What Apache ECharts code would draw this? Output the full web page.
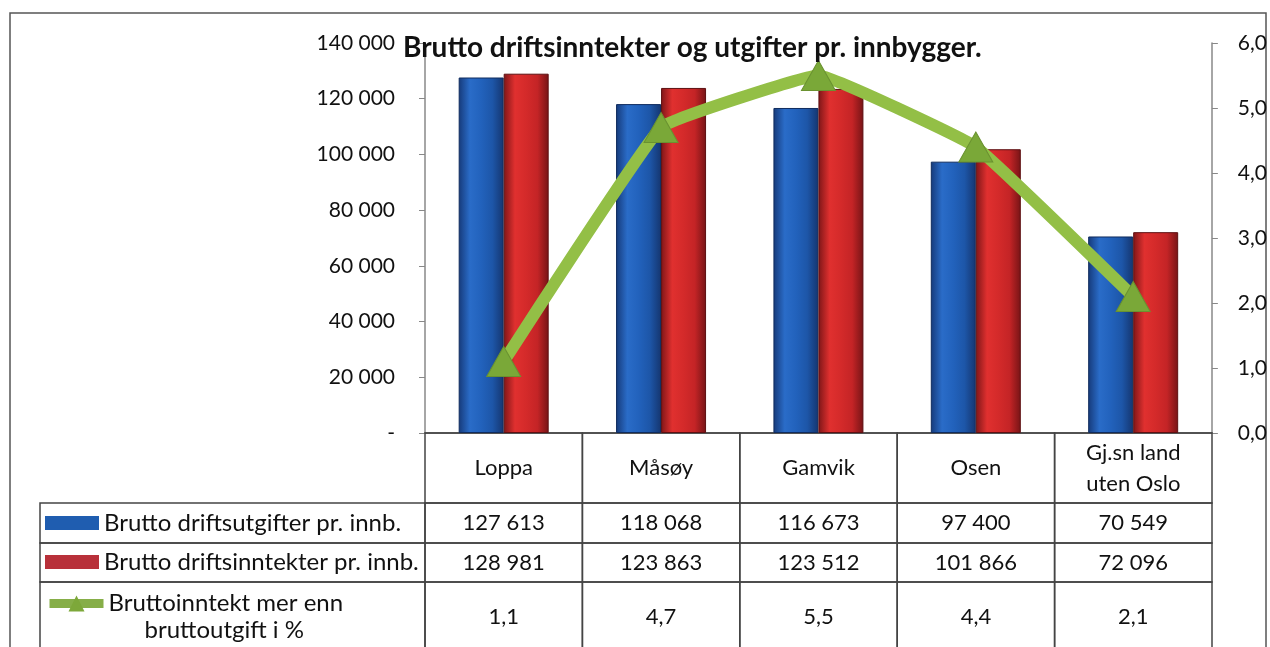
<!DOCTYPE html>
<html>
<head>
<meta charset="utf-8">
<script src="https://cdn.jsdelivr.net/npm/echarts@6/dist/echarts.min.js"></script>
<style>
  html, body { margin: 0; padding: 0; background: #fff; }
  #chart { width: 1270px; height: 647px; }
</style>
</head>
<body>
<div id="chart"></div>
<script>
const categories = ["Loppa", "Måsøy", "Gamvik", "Osen", "Gj.sn land\nuten Oslo"];
const utgifter = [127613, 118068, 116673, 97400, 70549];
const inntekter = [128981, 123863, 123512, 101866, 72096];
const prosent = [1.1, 4.7, 5.5, 4.4, 2.1];
const leftTicks = [0, 140000, 20000];
const rightTicks = [0, 6, 1];

const nameUt = "Brutto driftsutgifter pr. innb.";
const nameInn = "Brutto driftsinntekter pr. innb.";
const namePct = "Bruttoinntekt mer enn bruttoutgift i %";

const FONT = "Lato";
// table layout (pixels below the plot): header, row 1, row 2, row 3
const rowEdges = [0, 70, 110, 149, 219];
const legendCols = 385 / 157.4;

function fmt(n) {
    if (n === 0) return "-";
    return String(n).replace(/\B(?=(\d{3})+(?!\d))/g, " ");
}
function fmtPct(v) {
    return v.toFixed(1).replace(".", ",");
}

// cells of the data table: [colStart, colEnd, row, text]
const cells = [];
categories.forEach(function (c, i) {
    cells.push([i, i + 1, 0, c]);
    cells.push([i, i + 1, 1, fmt(utgifter[i])]);
    cells.push([i, i + 1, 2, fmt(inntekter[i])]);
    cells.push([i, i + 1, 3, fmtPct(prosent[i])]);
});
[1, 2, 3].forEach(function (r) {
    cells.push([-legendCols, 0, r, ""]);
});

function grad(stops) {
    return new echarts.graphic.LinearGradient(0, 0, 1, 0, stops.map(function (c, i) {
        return {offset: i / (stops.length - 1), color: c};
    }));
}

function legendRow(name, top, extra) {
    return Object.assign({
        orient: "vertical",
        left: 45,
        top: top,
        padding: 0,
        itemWidth: 54,
        itemHeight: 14,
        selectedMode: false,
        textStyle: {
            fontFamily: FONT, fontSize: 24, color: "#111", lineHeight: 26,
            rich: {
                a: {fontFamily: FONT, fontSize: 24, color: "#111", lineHeight: 27},
                b: {fontFamily: FONT, fontSize: 24, color: "#111", lineHeight: 27, padding: [0, 0, 0, 36]}
            }
        },
        formatter: function (n) {
            if (n === namePct) return "{a| }\n{a|Bruttoinntekt mer enn}\n{b|bruttoutgift i %}";
            return n;
        }
    }, extra);
}

const chart = echarts.init(document.getElementById("chart"));
chart.setOption({
    animation: false,
    textStyle: {fontFamily: FONT},
    title: {
        text: "Brutto driftsinntekter og utgifter pr. innbygger.",
        left: 398,
        top: 29,
        textStyle: {fontFamily: FONT, fontSize: 28, fontWeight: "bold", color: "#111"}
    },
    graphic: [{
        type: "rect",
        z: -1,
        shape: {x: 10, y: 13, width: 1256, height: 700},
        style: {fill: "none", stroke: "#555", lineWidth: 1.5}
    }],
    legend: [
        legendRow(nameUt, 510, {data: [{name: nameUt, icon: "rect", itemStyle: {color: "#1F5DB0", borderWidth: 0}}]}),
        legendRow(nameInn, 549, {data: [{name: nameInn, icon: "rect", itemStyle: {color: "#B8303A", borderWidth: 0}}]}),
        legendRow(namePct, 563, {
            itemHeight: 20,
            data: [{name: namePct, itemStyle: {color: "#7DA83A", borderWidth: 0}, lineStyle: {width: 9, color: "#86AE48"}}]
        })
    ],
    grid: [
        {left: 425, right: 58, top: 43, bottom: 214},
        {left: 40, right: 58, top: 433, bottom: 0}
    ],
    xAxis: [
        {
            type: "category",
            gridIndex: 0,
            data: categories,
            axisLine: {show: true, lineStyle: {color: "#555", width: 1.5}},
            axisTick: {show: false},
            axisLabel: {show: false}
        },
        {
            type: "value",
            gridIndex: 1,
            min: -legendCols,
            max: 5,
            show: false
        }
    ],
    yAxis: [
        {
            type: "value",
            gridIndex: 0,
            min: leftTicks[0],
            max: leftTicks[1],
            interval: leftTicks[2],
            splitLine: {show: false},
            axisLine: {show: true, lineStyle: {color: "#888", width: 1.5}},
            axisTick: {show: true, length: 6, lineStyle: {color: "#888"}},
            axisLabel: {margin: 30, fontSize: 21, color: "#111", fontFamily: FONT, formatter: fmt}
        },
        {
            type: "value",
            gridIndex: 0,
            position: "right",
            min: rightTicks[0],
            max: rightTicks[1],
            interval: rightTicks[2],
            splitLine: {show: false},
            axisLine: {show: true, lineStyle: {color: "#888", width: 1.5}},
            axisTick: {show: true, length: 6, lineStyle: {color: "#888"}},
            axisLabel: {margin: 26, fontSize: 21, color: "#111", fontFamily: FONT, formatter: fmtPct}
        },
        {
            type: "value",
            gridIndex: 1,
            min: 0,
            max: 214,
            inverse: true,
            show: false
        }
    ],
    series: [
        {
            name: nameUt,
            type: "bar",
            data: utgifter,
            barWidth: 45,
            barGap: "0%",
            itemStyle: {
                color: grad(["#163a7a", "#2a6cc8", "#2262bc", "#1d56a8", "#153670"]),
                borderColor: "#102c5e",
                borderWidth: 1
            }
        },
        {
            name: nameInn,
            type: "bar",
            data: inntekter,
            barWidth: 45,
            itemStyle: {
                color: grad(["#7e1618", "#e0302f", "#d42a2a", "#c42426", "#761416"]),
                borderColor: "#5e1012",
                borderWidth: 1
            }
        },
        {
            name: namePct,
            type: "line",
            yAxisIndex: 1,
            data: prosent,
            smooth: 0.08,
            symbol: "triangle",
            symbolSize: [34, 30],
            z: 5,
            lineStyle: {width: 12, color: "#93BF46"},
            itemStyle: {color: "#7AA838", borderColor: "#6a9230", borderWidth: 1}
        },
        {
            type: "custom",
            xAxisIndex: 1,
            yAxisIndex: 2,
            data: cells,
            silent: true,
            renderItem: function (params, api) {
                const c0 = api.value(0), c1 = api.value(1), r = api.value(2);
                const p0 = api.coord([c0, rowEdges[r]]);
                const p1 = api.coord([c1, rowEdges[r + 1]]);
                const text = cells[params.dataIndex][3];
                return {
                    type: "group",
                    children: [
                        {
                            type: "rect",
                            shape: {x: p0[0], y: p0[1], width: p1[0] - p0[0], height: p1[1] - p0[1]},
                            style: {fill: "none", stroke: "#444", lineWidth: 1.5}
                        },
                        {
                            type: "text",
                            x: (p0[0] + p1[0]) / 2,
                            y: (p0[1] + p1[1]) / 2,
                            style: {
                                text: text,
                                align: "center",
                                verticalAlign: "middle",
                                fontFamily: FONT,
                                fontSize: 22,
                                lineHeight: 31,
                                fill: "#111"
                            }
                        }
                    ]
                };
            }
        }
    ]
});
</script>
</body>
</html>
